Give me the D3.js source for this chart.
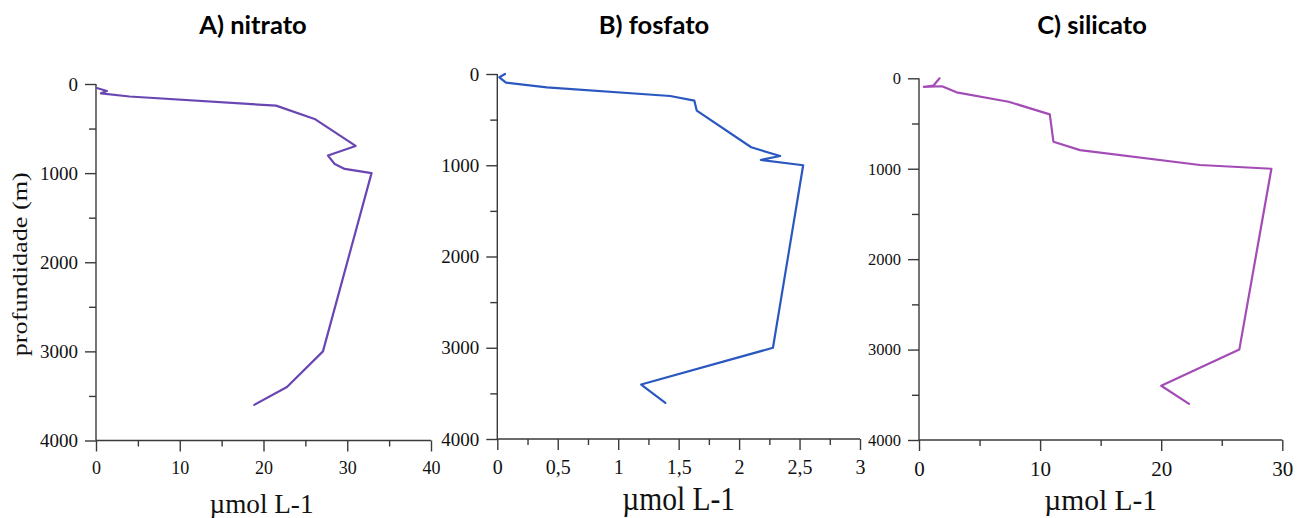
<!DOCTYPE html>
<html><head><meta charset="utf-8">
<script src="https://cdn.jsdelivr.net/npm/d3@7"></script>
<style>
html,body{margin:0;padding:0;background:#fff;}
svg{display:block;}
</style></head>
<body>
<svg id="chart" width="1307" height="518"></svg>
<script>
// ---- data ----
const titles = ["A) nitrato", "B) fosfato", "C) silicato"];
const depthTicks = [0, 1000, 2000, 3000, 4000];
const depthMinor = [500, 1500, 2500, 3500];

const nitratoDepth = [45, 78, 105, 140, 243, 392, 695, 803, 897, 953, 1000, 3000, 3400, 3600];
const nitratoVal   = [0.1, 1.3, 0.6, 4.0, 21.5, 26.1, 31.0, 27.7, 28.5, 29.7, 32.9, 27.1, 22.8, 18.9];

const fosfatoDepth = [0, 36, 95, 146, 241, 292, 402, 803, 899, 942, 1000, 3000, 3403, 3603];
const fosfatoVal   = [0.064, 0.017, 0.072, 0.41, 1.43, 1.63, 1.65, 2.10, 2.34, 2.18, 2.53, 2.28, 1.19, 1.39];

const silicatoDepth = [0, 80, 95, 88, 155, 259, 399, 701, 794, 959, 1000, 3000, 3400, 3600];
const silicatoVal   = [1.7, 1.2, 0.4, 1.9, 3.1, 7.4, 10.8, 11.1, 13.3, 23.2, 29.1, 26.45, 20.0, 22.3];

const xTicksA = [0, 10, 20, 30, 40], xMinorA = [5, 15, 25, 35];
const xTicksB = [0, 0.5, 1, 1.5, 2, 2.5, 3], xMinorB = [0.25, 0.75, 1.25, 1.75, 2.25, 2.75];
const xTicksC = [0, 10, 20, 30], xMinorC = [5, 15, 25];
const xUnit = "µmol L-1";
const yLabel = "profundidade (m)";

// ---- layout ----
const panels = [
  {title: titles[0], tx: 253, depth: nitratoDepth, val: nitratoVal, xd: [0, 40], xr: [96, 431], yr: [84, 440.5],
   ticks: xTicksA, minor: xMinorA, color: "#6a46b3", yFont: 19, xFont: 18, uFont: 27, uLen: 104, uBase: 513, fmt: d3.format("d")},
  {title: titles[1], tx: 654, depth: fosfatoDepth, val: fosfatoVal, xd: [0, 3], xr: [497.3, 860], yr: [74, 439],
   ticks: xTicksB, minor: xMinorB, color: "#2a58c0", yFont: 19, xFont: 20, uFont: 33, uLen: 113, uBase: 510, fmt: d => String(d).replace(".", ",")},
  {title: titles[2], tx: 1092, depth: silicatoDepth, val: silicatoVal, xd: [0, 30], xr: [919, 1282.3], yr: [78.3, 440],
   ticks: xTicksC, minor: xMinorC, color: "#a44cb6", yFont: 16.5, xFont: 21, uFont: 29, uLen: 113, uBase: 510, fmt: d3.format("d")}
];

const svg = d3.select("#chart");
const axisColor = "#3a3a3a";
const serif = "'Liberation Serif','Times New Roman',Times,serif";

panels.forEach((p, i) => {
  const x = d3.scaleLinear().domain(p.xd).range(p.xr);
  const y = d3.scaleLinear().domain([0, 4000]).range(p.yr);
  const g = svg.append("g");

  // title
  g.append("text").attr("x", p.tx).attr("y", 34).attr("text-anchor", "middle")
    .attr("font-family", "Lato, 'Open Sans', sans-serif").attr("font-weight", "bold")
    .attr("font-size", 25.5).attr("fill", "#000").text(p.title);

  // y axis
  const yAxis = d3.axisLeft(y).tickValues(depthTicks).tickSize(11).tickPadding(7).tickFormat(d3.format("d"));
  const ya = g.append("g").attr("transform", `translate(${p.xr[0]},0)`).call(yAxis)
    .attr("font-family", serif).attr("font-size", p.yFont);
  ya.select(".domain").attr("d", `M0,${p.yr[0]}V${p.yr[1]}`);
  g.append("g").attr("transform", `translate(${p.xr[0]},0)`)
    .call(d3.axisLeft(y).tickValues(depthMinor).tickSize(7).tickFormat(""))
    .select(".domain").remove();
  ya.selectAll("text").style("font-family", serif).style("font-size", p.yFont + "px").attr("fill", "#111");

  // x axis
  const xa = g.append("g").attr("transform", `translate(0,${p.yr[1]})`)
    .call(d3.axisBottom(x).tickValues(p.ticks).tickSize(11).tickPadding(10).tickFormat(p.fmt))
    .attr("font-family", serif).attr("font-size", p.xFont);
  xa.select(".domain").attr("d", `M${p.xr[0]},0H${p.xr[1]}`);
  xa.selectAll("text").style("font-family", serif).style("font-size", p.xFont + "px").attr("fill", "#111");
  g.append("g").attr("transform", `translate(0,${p.yr[1]})`)
    .call(d3.axisBottom(x).tickValues(p.minor).tickSize(6).tickFormat(""))
    .select(".domain").remove();

  g.selectAll(".domain, .tick line").attr("stroke", axisColor).attr("stroke-width", 1.4);

  // unit label
  g.append("text").attr("x", (p.xr[0] + p.xr[1]) / 2 + (i === 0 ? -2 : 0)).attr("y", p.uBase)
    .attr("text-anchor", "middle").attr("font-family", serif).attr("font-size", p.uFont)
    .attr("textLength", p.uLen).attr("lengthAdjust", "spacingAndGlyphs").attr("fill", "#111").text(xUnit);

  // profile line
  const pts = p.depth.map((d, k) => [p.val[k], d]);
  g.append("path").datum(pts)
    .attr("fill", "none").attr("stroke", p.color).attr("stroke-width", 2.2)
    .attr("stroke-linejoin", "round").attr("stroke-linecap", "round")
    .attr("d", d3.line().x(d => x(d[0])).y(d => y(d[1])));

  if (i === 0) {
    g.append("text").attr("transform", `translate(27,${(p.yr[0] + p.yr[1]) / 2 + 2}) rotate(-90)`)
      .attr("text-anchor", "middle").attr("font-family", serif).attr("font-size", 22)
      .attr("textLength", 184).attr("lengthAdjust", "spacingAndGlyphs").attr("fill", "#111").text(yLabel);
  }
});
</script>
</body></html>
